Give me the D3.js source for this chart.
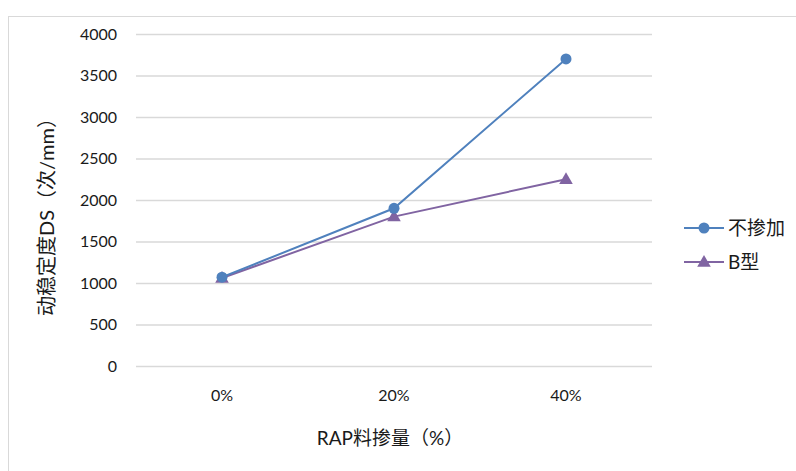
<!DOCTYPE html>
<html>
<head>
<meta charset="utf-8">
<script src="https://cdn.jsdelivr.net/npm/d3@7"></script>
<style>
  html, body { margin: 0; padding: 0; background: #fff; }
  svg { display: block; }
  text { font-family: Lato, "Noto Sans CJK SC", sans-serif; fill: #1a1a1a; }
</style>
</head>
<body>
<svg id="chart" width="796" height="471"></svg>
<script>
// RAP content levels and dynamic stability (DS) per mix
const categories = ["0%", "20%", "40%"];
const seriesNames = ["不掺加", "B型"];
const noAdditive = [1070, 1900, 3700];
const typeB = [1060, 1800, 2250];
const yTicks = [0, 500, 1000, 1500, 2000, 2500, 3000, 3500, 4000];

const svg = d3.select("#chart");
const W = 796, H = 471;
const plot = { left: 136, right: 652, top: 34, bottom: 366 };

// outer chart frame
svg.append("rect")
  .attr("x", 8.5).attr("y", 16.5)
  .attr("width", W).attr("height", H)
  .attr("fill", "#fff").attr("stroke", "#D9D9D9").attr("stroke-width", 1);

const x = d3.scaleBand().domain(categories).range([plot.left, plot.right]).padding(0);
const y = d3.scaleLinear().domain([0, 4000]).range([plot.bottom, plot.top]);

// horizontal gridlines + y tick labels
const yAxis = d3.axisLeft(y).tickValues(yTicks).tickSize(-(plot.right - plot.left)).tickPadding(19).tickFormat(d3.format("d"));
const gy = svg.append("g").attr("transform", `translate(${plot.left},0)`).call(yAxis);
gy.select(".domain").remove();
gy.selectAll(".tick line").attr("stroke", "#D9D9D9").attr("stroke-width", 1.3);
gy.selectAll(".tick text").attr("font-size", 16).attr("fill", "#1a1a1a")
  .style("font-family", "Lato, sans-serif");

// category labels
const xAxis = d3.axisBottom(x).tickSize(0).tickPadding(24);
const gx = svg.append("g").attr("transform", `translate(0,${plot.bottom})`).call(xAxis);
gx.select(".domain").remove();
gx.selectAll(".tick text").attr("font-size", 16).attr("fill", "#1a1a1a")
  .style("font-family", "Lato, sans-serif");

const cx = d => x(d) + x.bandwidth() / 2;

const series = [
  { name: seriesNames[0], values: noAdditive, color: "#4F81BD", marker: "circle" },
  { name: seriesNames[1], values: typeB, color: "#8064A2", marker: "triangle" }
];

const line = d3.line().x(d => cx(d.c)).y(d => y(d.v));

function drawMarker(g, type, px, py, color) {
  if (type === "circle") {
    g.append("circle").attr("cx", px).attr("cy", py).attr("r", 5.5).attr("fill", color);
  } else {
    g.append("path")
      .attr("d", d3.symbol().type(d3.symbolTriangle).size(80)())
      .attr("transform", `translate(${px},${py + 0.8})`)
      .attr("fill", color);
  }
}

// draw series in reverse so the blue line sits on top
[...series].reverse().forEach(s => {
  const pts = categories.map((c, i) => ({ c, v: s.values[i] }));
  const g = svg.append("g");
  g.append("path").attr("d", line(pts)).attr("fill", "none")
    .attr("stroke", s.color).attr("stroke-width", 2);
  pts.forEach(p => drawMarker(g, s.marker, cx(p.c), y(p.v), s.color));
});

// legend
const legend = svg.append("g");
series.forEach((s, i) => {
  const ly = 228 + i * 34;
  legend.append("line").attr("x1", 684).attr("x2", 724).attr("y1", ly).attr("y2", ly)
    .attr("stroke", s.color).attr("stroke-width", 2);
  drawMarker(legend, s.marker, 704, ly, s.color);
  legend.append("text").attr("x", 728).attr("y", ly).attr("dy", "0.36em")
    .attr("font-size", 19).text(s.name);
});

// axis titles
svg.append("text")
  .attr("transform", `translate(54,${(plot.top + plot.bottom) / 2 + 12}) rotate(-90)`)
  .attr("text-anchor", "middle").attr("font-size", 20).attr("fill", "#333")
  .text("动稳定度DS（次/mm）");

svg.append("text")
  .attr("x", 390).attr("y", 438).attr("dy", "0.36em")
  .attr("text-anchor", "middle").attr("font-size", 19).attr("fill", "#333")
  .text("RAP料掺量（%）");
</script>
</body>
</html>
